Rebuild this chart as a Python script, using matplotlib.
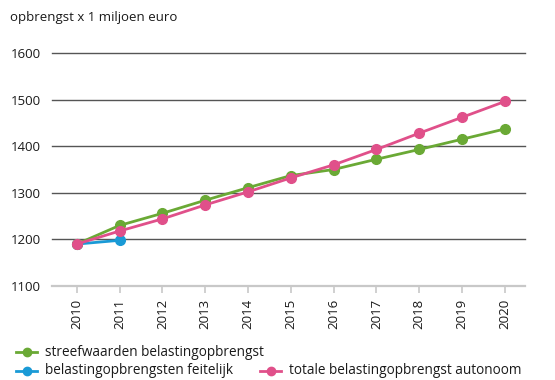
import matplotlib
matplotlib.use("Agg")
import matplotlib.pyplot as plt
from matplotlib.lines import Line2D

plt.rcParams['font.family'] = ['Open Sans', 'DejaVu Sans']

years = [2010, 2011, 2012, 2013, 2014, 2015, 2016, 2017, 2018, 2019, 2020]
streefwaarden = [1190, 1230, 1256, 1284, 1311, 1337, 1350, 1372, 1393, 1415, 1437]
autonoom = [1190, 1218, 1244, 1274, 1302, 1332, 1360, 1393, 1428, 1462, 1496]
feitelijk_years = [2010, 2011]
feitelijk = [1190, 1198]
y_ticks = [1100, 1200, 1300, 1400, 1500, 1600]

GREEN = '#6aa935'
BLUE = '#1a9ad6'
PINK = '#e0508a'
TEXT = '#1a1a1a'

fig = plt.figure(figsize=(5.55, 3.8), dpi=100)
ax = fig.add_axes([52 / 555, 1 - 286 / 380, (525 - 52) / 555, (286 - 53) / 380])

ax.set_xlim(2009.42, 2020.47)
ax.set_ylim(1100, 1600)

for s in ax.spines.values():
    s.set_visible(False)

# horizontal gridlines
for v in y_ticks[1:]:
    ax.axhline(v, color='#555555', lw=1.0, zorder=1, clip_on=False)
ax.axhline(1100, color='#c8c8c8', lw=1.6, zorder=1, clip_on=False)

ax.set_yticks(y_ticks)
ax.set_yticklabels([str(v) for v in y_ticks], fontsize=9.5, color=TEXT)
ax.tick_params(axis='y', length=0, pad=30)
for lab in ax.get_yticklabels():
    lab.set_horizontalalignment('left')

ax.set_xticks(years)
ax.set_xticklabels([str(y) for y in years], rotation=90, fontsize=9.5, color=TEXT)
ax.tick_params(axis='x', length=5, width=1.2, color='#c8c8c8', pad=4)

lw = 2.0
ms = 7
ax.plot(years, streefwaarden, color=GREEN, lw=lw, marker='o', ms=ms, zorder=3, clip_on=False)
ax.plot(years, autonoom, color=PINK, lw=lw, marker='o', ms=ms, zorder=4, clip_on=False)
ax.plot(feitelijk_years, feitelijk, color=BLUE, lw=lw, marker='o', ms=ms, zorder=2, clip_on=False)

fig.text(10 / 555, 1 - 18 / 380, 'opbrengst x 1 miljoen euro', fontsize=9.5,
         color=TEXT, va='center', ha='left')

# legend
entries = [
    (GREEN, 'streefwaarden belastingopbrengst', 16, 352),
    (BLUE, 'belastingopbrengsten feitelijk', 16, 371),
    (PINK, 'totale belastingopbrengst autonoom', 260, 371),
]
for color, label, x0, y0 in entries:
    yf = 1 - y0 / 380
    fig.add_artist(Line2D([x0 / 555, (x0 + 21) / 555], [yf, yf], color=color, lw=lw,
                          transform=fig.transFigure))
    fig.add_artist(Line2D([(x0 + 10.5) / 555], [yf], color=color, marker='o', ms=6,
                          transform=fig.transFigure))
    fig.text((x0 + 29) / 555, yf, label, fontsize=9.8, color=TEXT, va='center', ha='left')

fig.savefig('out.png', dpi=100)
